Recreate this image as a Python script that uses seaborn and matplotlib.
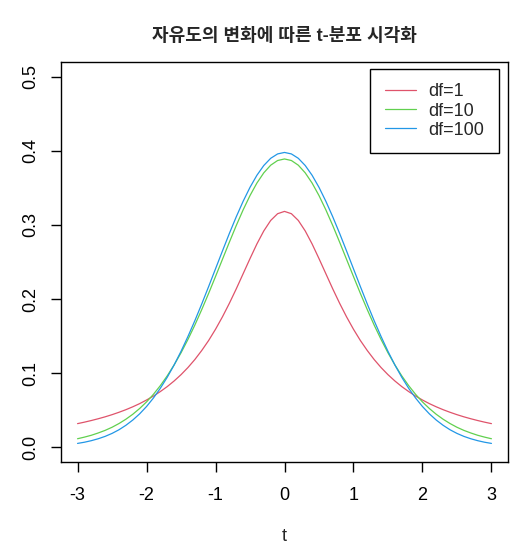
import numpy as np
import pandas as pd
import matplotlib
matplotlib.use("Agg")
import matplotlib.pyplot as plt
import seaborn as sns

# t values sampled along the x axis (step 0.1)
t_vals = [-3.0, -2.9, -2.8, -2.7, -2.6, -2.5, -2.4, -2.3, -2.2, -2.1,
          -2.0, -1.9, -1.8, -1.7, -1.6, -1.5, -1.4, -1.3, -1.2, -1.1,
          -1.0, -0.9, -0.8, -0.7, -0.6, -0.5, -0.4, -0.3, -0.2, -0.1,
          0.0, 0.1, 0.2, 0.3, 0.4, 0.5, 0.6, 0.7, 0.8, 0.9,
          1.0, 1.1, 1.2, 1.3, 1.4, 1.5, 1.6, 1.7, 1.8, 1.9,
          2.0, 2.1, 2.2, 2.3, 2.4, 2.5, 2.6, 2.7, 2.8, 2.9, 3.0]

dens_df1 = [0.0318, 0.0338, 0.0360, 0.0384, 0.0410, 0.0439, 0.0471, 0.0506,
            0.0545, 0.0588, 0.0637, 0.0690, 0.0751, 0.0818, 0.0894, 0.0979,
            0.1075, 0.1183, 0.1305, 0.1440, 0.1592, 0.1759, 0.1941, 0.2136,
            0.2341, 0.2546, 0.2744, 0.2920, 0.3061, 0.3152, 0.3183,
            0.3152, 0.3061, 0.2920, 0.2744, 0.2546, 0.2341, 0.2136, 0.1941,
            0.1759, 0.1592, 0.1440, 0.1305, 0.1183, 0.1075, 0.0979, 0.0894,
            0.0818, 0.0751, 0.0690, 0.0637, 0.0588, 0.0545, 0.0506, 0.0471,
            0.0439, 0.0410, 0.0384, 0.0360, 0.0338, 0.0318]

dens_df10 = [0.0114, 0.0136, 0.0161, 0.0192, 0.0227, 0.0269, 0.0319, 0.0377,
             0.0444, 0.0522, 0.0611, 0.0714, 0.0831, 0.0963, 0.1111, 0.1274,
             0.1454, 0.1648, 0.1857, 0.2076, 0.2304, 0.2535, 0.2766, 0.2991,
             0.3203, 0.3397, 0.3566, 0.3704, 0.3807, 0.3870, 0.3891,
             0.3870, 0.3807, 0.3704, 0.3566, 0.3397, 0.3203, 0.2991, 0.2766,
             0.2535, 0.2304, 0.2076, 0.1857, 0.1648, 0.1454, 0.1274, 0.1111,
             0.0963, 0.0831, 0.0714, 0.0611, 0.0522, 0.0444, 0.0377, 0.0319,
             0.0269, 0.0227, 0.0192, 0.0161, 0.0136, 0.0114]

dens_df100 = [0.0051, 0.0067, 0.0088, 0.0114, 0.0146, 0.0186, 0.0235, 0.0295,
              0.0366, 0.0450, 0.0549, 0.0664, 0.0795, 0.0944, 0.1110, 0.1294,
              0.1494, 0.1707, 0.1933, 0.2168, 0.2408, 0.2648, 0.2884, 0.3109,
              0.3319, 0.3508, 0.3671, 0.3803, 0.3900, 0.3959, 0.3979,
              0.3959, 0.3900, 0.3803, 0.3671, 0.3508, 0.3319, 0.3109, 0.2884,
              0.2648, 0.2408, 0.2168, 0.1933, 0.1707, 0.1494, 0.1294, 0.1110,
              0.0944, 0.0795, 0.0664, 0.0549, 0.0450, 0.0366, 0.0295, 0.0235,
              0.0186, 0.0146, 0.0114, 0.0088, 0.0067, 0.0051]

series_names = ["df=1", "df=10", "df=100"]
series_colors = ["#DF536B", "#61D04F", "#2297E6"]

x_ticks = [-3, -2, -1, 0, 1, 2, 3]
y_ticks = [0.0, 0.1, 0.2, 0.3, 0.4, 0.5]

df = pd.concat([
    pd.DataFrame({"t": t_vals, "density": d, "series": name})
    for name, d in zip(series_names, [dens_df1, dens_df10, dens_df100])
])

sns.set_style("ticks")
plt.rcParams["font.family"] = ["Liberation Sans", "Noto Sans CJK KR", "DejaVu Sans"]

fig = plt.figure(figsize=(5.29, 5.44), dpi=100)
ax = fig.add_axes([61 / 529, 1 - 462 / 544, 447 / 529, 400 / 544])

sns.lineplot(data=df, x="t", y="density", hue="series", palette=series_colors,
             hue_order=series_names, linewidth=0.9, ax=ax)

ax.set_xlim(-3.24, 3.24)
ax.set_ylim(-0.02, 0.52)
ax.set_xticks(x_ticks)
ax.set_xticklabels([str(v) for v in x_ticks])
ax.set_yticks(y_ticks)
ax.set_yticklabels([f"{v:.1f}" for v in y_ticks], rotation=90, va="center")
ax.tick_params(axis="both", direction="out", length=7, width=1, color="black",
               labelsize=13, labelcolor="black")
ax.tick_params(axis="x", pad=11)
ax.tick_params(axis="y", pad=9)
for s in ax.spines.values():
    s.set_visible(True)
    s.set_color("black")
    s.set_linewidth(1)

ax.set_xlabel("t", fontsize=13, labelpad=17)
ax.set_ylabel("")
ax.set_title("자유도의 변화에 따른 t-분포 시각화", fontsize=13, fontweight="bold",
             pad=15)

leg = ax.legend(loc="upper right", bbox_to_anchor=(0.980, 0.9825),
                borderaxespad=0, fontsize=13, handlelength=1.75,
                handletextpad=0.7, labelspacing=0.12, borderpad=0.8,
                fancybox=False, framealpha=1, edgecolor="black")
leg.get_frame().set_linewidth(1)

fig.savefig("out.png", dpi=100)
